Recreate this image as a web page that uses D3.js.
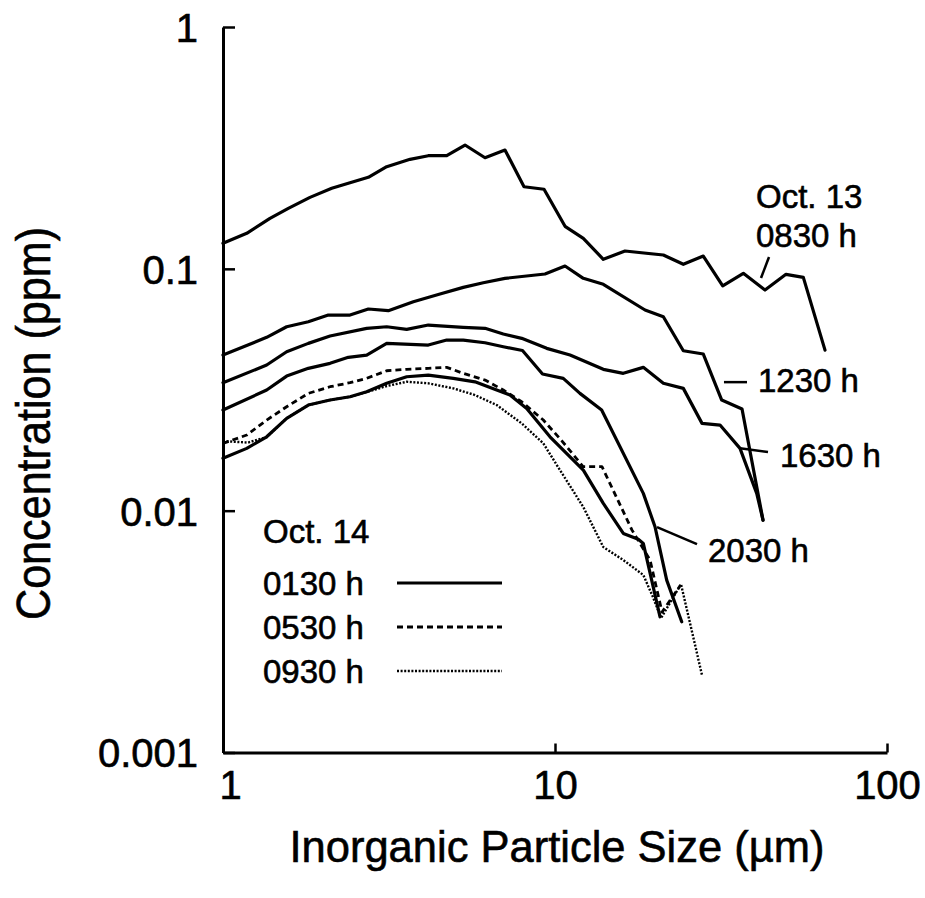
<!DOCTYPE html>
<html>
<head>
<meta charset="utf-8">
<script src="https://cdn.jsdelivr.net/npm/d3@7"></script>
<style>
  html, body { margin: 0; padding: 0; background: #fff; }
  svg { display: block; font-family: "Liberation Sans", Arial, Helvetica, sans-serif; }
  text { fill: #000; stroke: #000; stroke-width: 0.6px; }
</style>
</head>
<body>
<svg id="chart" width="925" height="898"></svg>
<script>
// Particle sizes (µm) and concentrations (ppm) for each sampling time
const size0830 = [1.0, 1.179, 1.385, 1.573, 1.828, 2.126, 2.413, 2.740, 3.112, 3.659, 4.153, 4.719, 5.357, 6.155, 7.069, 8.067, 9.267, 10.72, 12.17, 13.98, 16.25, 21.20, 24.35, 27.97, 32.00, 36.92, 42.91, 49.63, 55.97, 65.06];
const conc0830 = [0.1275, 0.1402, 0.1618, 0.1779, 0.1975, 0.2152, 0.2270, 0.2390, 0.2644, 0.2837, 0.2936, 0.2936, 0.3251, 0.2880, 0.3099, 0.2185, 0.2134, 0.1499, 0.1337, 0.1095, 0.1185, 0.1141, 0.1044, 0.1129, 0.0851, 0.0958, 0.0817, 0.0949, 0.0922, 0.0461];

const size1230 = [1.0, 1.354, 1.555, 1.807, 2.076, 2.413, 2.740, 3.147, 3.744, 4.504, 5.294, 6.081, 7.069, 9.330, 10.72, 12.17, 13.98, 18.67, 21.20, 24.35, 27.97, 31.78, 36.59, 42.32];
const conc1230 = [0.04399, 0.05208, 0.05761, 0.06042, 0.06440, 0.06440, 0.06822, 0.06713, 0.07310, 0.07864, 0.08384, 0.08760, 0.09135, 0.09517, 0.1027, 0.09135, 0.08628, 0.06757, 0.06337, 0.04585, 0.04443, 0.02867, 0.02633, 0.00914];

const size1630 = [1.0, 1.354, 1.555, 1.807, 2.101, 2.709, 3.112, 3.575, 4.153, 5.294, 6.155, 6.986, 7.937, 9.441, 11.10, 13.98, 16.06, 18.45, 21.20, 24.35, 27.72, 31.41, 36.08, 40.51, 42.32];
const conc1630 = [0.03381, 0.04001, 0.04542, 0.04918, 0.05273, 0.05675, 0.05761, 0.05622, 0.05856, 0.05730, 0.05675, 0.05374, 0.05159, 0.04690, 0.04399, 0.03841, 0.03697, 0.03914, 0.03362, 0.03204, 0.02296, 0.02259, 0.01810, 0.01179, 0.00914];

const size2030 = [1.0, 1.354, 1.555, 1.807, 2.101, 2.385, 2.709, 3.112, 4.153, 4.719, 5.294, 6.155, 6.986, 7.981, 9.170, 10.59, 11.89, 13.82, 18.45, 20.01, 21.70, 24.08];
const conc2030 = [0.02606, 0.03154, 0.03602, 0.03877, 0.04066, 0.04305, 0.04399, 0.04918, 0.04840, 0.05076, 0.05076, 0.04947, 0.04762, 0.04594, 0.03672, 0.03525, 0.03055, 0.02606, 0.01179, 0.00858, 0.00516, 0.003471];

const size0130 = [1.0, 1.179, 1.354, 1.555, 1.807, 2.101, 2.413, 2.709, 3.112, 3.575, 4.153, 4.939, 5.741, 6.674, 7.316, 8.218, 9.659, 12.17, 13.98, 16.06, 17.82, 18.45, 20.72];
const conc0130 = [0.01646, 0.01810, 0.02021, 0.02408, 0.02734, 0.02867, 0.02958, 0.03102, 0.03362, 0.03578, 0.03637, 0.03525, 0.03411, 0.03154, 0.03007, 0.02648, 0.02021, 0.01472, 0.01072, 0.00805, 0.00761, 0.00732, 0.003641];

const size0530 = [1.0, 1.179, 1.354, 1.555, 1.807, 2.101, 2.413, 2.709, 3.112, 3.575, 4.153, 4.719, 5.294, 6.155, 6.986, 7.937, 9.221, 10.50, 12.15, 13.85, 17.06, 19.33, 21.01, 23.79];
const conc0530 = [0.01898, 0.02055, 0.02370, 0.02690, 0.03055, 0.03254, 0.03381, 0.03525, 0.03790, 0.03841, 0.03877, 0.03914, 0.03697, 0.03468, 0.03154, 0.02821, 0.02370, 0.01940, 0.01522, 0.01522, 0.00831, 0.00625, 0.003807, 0.004878];

const size0930 = [1.0, 1.189, 1.354, 1.555, 1.807, 2.101, 2.413, 2.709, 3.112, 3.575, 4.153, 4.939, 5.741, 6.674, 7.937, 9.221, 10.35, 12.17, 13.98, 16.06, 18.45, 19.73, 20.87, 23.96, 27.72];
const conc0930 = [0.01940, 0.01912, 0.02016, 0.02408, 0.02734, 0.02867, 0.02958, 0.03094, 0.03276, 0.03411, 0.03362, 0.03204, 0.03007, 0.02734, 0.02296, 0.01898, 0.01472, 0.01035, 0.00707, 0.00625, 0.00542, 0.00439, 0.003596, 0.004970, 0.00209];

// Axis ticks
const xTicks = [1, 10, 100];
const yTicks = [1, 0.1, 0.01, 0.001];
const yTickLabels = ["1", "0.1", "0.01", "0.001"];

// Oct. 14 series shown in the legend
const legendNames = ["0130 h", "0530 h", "0930 h"];

const svg = d3.select("#chart");

const x = d3.scaleLog().domain([1, 100]).range([223, 887]);
const y = d3.scaleLog().domain([0.001, 1]).range([752.5, 27]);

const lineStyles = {
  solid:  { width: 3.2, dash: null },
  dashed: { width: 2.8, dash: "6,4" },
  dotted: { width: 2.4, dash: "2,1.6" }
};

const series = [
  { sizes: size0830, conc: conc0830, style: "solid" },
  { sizes: size1230, conc: conc1230, style: "solid" },
  { sizes: size1630, conc: conc1630, style: "solid" },
  { sizes: size2030, conc: conc2030, style: "solid" },
  { sizes: size0130, conc: conc0130, style: "solid" },
  { sizes: size0530, conc: conc0530, style: "dashed" },
  { sizes: size0930, conc: conc0930, style: "dotted" }
];

const line = d3.line()
  .x(d => x(d[0]))
  .y(d => y(d[1]))
  .curve(d3.curveLinear);

svg.append("g").attr("class", "curves")
  .selectAll("path")
  .data(series)
  .join("path")
  .attr("d", s => line(d3.zip(s.sizes, s.conc)))
  .attr("fill", "none")
  .attr("stroke", "#000")
  .attr("stroke-width", s => lineStyles[s.style].width)
  .attr("stroke-dasharray", s => lineStyles[s.style].dash)
  .attr("stroke-linejoin", "round")
  .attr("stroke-linecap", s => s.style === "solid" ? "round" : "butt");

// Axes (ticks point into the plot)
const yAxis = d3.axisLeft(y)
  .tickValues(yTicks)
  .tickFormat((d, i) => yTickLabels[i])
  .tickSizeInner(-12)
  .tickSizeOuter(0)
  .tickPadding(25);

const xAxis = d3.axisBottom(x)
  .tickValues(xTicks)
  .tickFormat(d3.format("d"))
  .tickSizeInner(-9)
  .tickSizeOuter(0)
  .tickPadding(18);

const gy = svg.append("g").attr("transform", `translate(${x(1)},0)`).call(yAxis);
const gx = svg.append("g").attr("transform", `translate(0,${y(0.001)})`).call(xAxis);

[gx, gy].forEach(g => {
  g.select(".domain").attr("stroke", "#000").attr("stroke-width", 3);
  g.selectAll(".tick line").attr("stroke", "#000").attr("stroke-width", 2.5);
  g.selectAll(".tick text")
    .attr("fill", "#000")
    .attr("font-size", 40)
    .attr("font-family", "'Liberation Sans', Arial, Helvetica, sans-serif");
});
gy.selectAll(".tick text").attr("dy", "0.36em");
gx.selectAll(".tick text").attr("dx", d => d === 1 ? 7 : 0);

// Axis titles
svg.append("text")
  .attr("x", 557)
  .attr("y", 862)
  .attr("text-anchor", "middle")
  .attr("font-size", 44)
  .attr("textLength", 535)
  .attr("lengthAdjust", "spacingAndGlyphs")
  .text("Inorganic Particle Size (µm)");

svg.append("text")
  .attr("transform", "translate(50,423.5) rotate(-90)")
  .attr("text-anchor", "middle")
  .attr("font-size", 48)
  .attr("textLength", 393)
  .attr("lengthAdjust", "spacingAndGlyphs")
  .text("Concentration (ppm)");

// Curve labels with leader lines (positions in data units)
const labels = [
  { lines: ["Oct. 13", "0830 h"], at: [40.31, 0.1784], leader: [[44.12, 0.1119], [41.73, 0.0916]] },
  { lines: ["1230 h"], at: [40.87, 0.03094], leader: [[32.28, 0.0340], [37.87, 0.0340]] },
  { lines: ["1630 h"], at: [47.61, 0.01514], leader: [[36.08, 0.01810], [43.81, 0.01748]] },
  { lines: ["2030 h"], at: [28.90, 0.00613], leader: [[20.29, 0.00855], [26.77, 0.00727]] }
];

const ann = svg.append("g").attr("class", "annotations");
labels.forEach(l => {
  ann.append("line")
    .attr("x1", x(l.leader[0][0])).attr("y1", y(l.leader[0][1]))
    .attr("x2", x(l.leader[1][0])).attr("y2", y(l.leader[1][1]))
    .attr("stroke", "#000").attr("stroke-width", 2.5);
  const t = ann.append("text")
    .attr("x", x(l.at[0]))
    .attr("y", y(l.at[1]))
    .attr("font-size", 33);
  l.lines.forEach((s, i) => {
    t.append("tspan").attr("x", x(l.at[0])).attr("dy", i === 0 ? 0 : 39).text(s);
  });
});

// Legend for the Oct. 14 series
const legend = svg.append("g").attr("class", "legend");
legend.append("text").attr("x", 263).attr("y", 543).attr("font-size", 33).text("Oct. 14");
const legendStyles = ["solid", "dashed", "dotted"];
legendNames.forEach((name, i) => {
  const yy = 595 + i * 44;
  legend.append("text").attr("x", 263).attr("y", yy).attr("font-size", 33).text(name);
  const st = lineStyles[legendStyles[i]];
  legend.append("line")
    .attr("x1", 397).attr("x2", 502)
    .attr("y1", yy - 12).attr("y2", yy - 12)
    .attr("stroke", "#000")
    .attr("stroke-width", st.width)
    .attr("stroke-dasharray", st.dash);
});
</script>
</body>
</html>
